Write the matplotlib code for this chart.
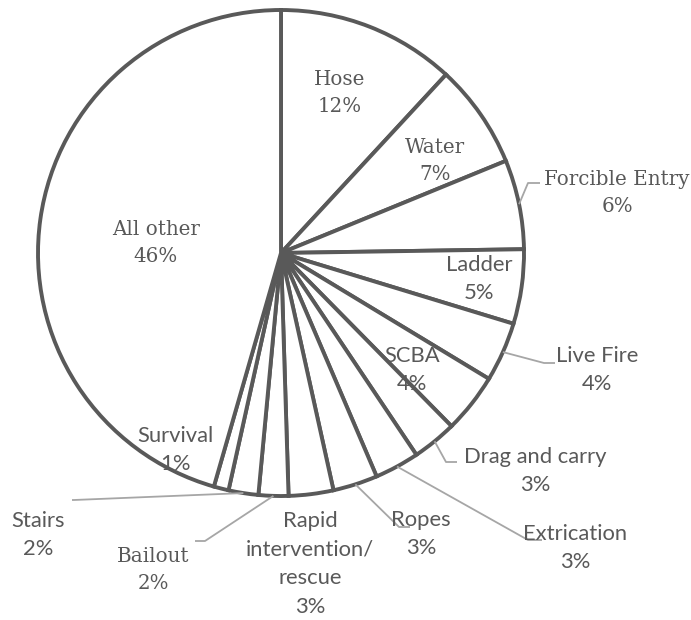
import matplotlib.pyplot as plt
import numpy as np

##############
# PARAMETERS #
##############

# Share of training topics (clockwise from the top)
Topics = ["Hose", "Water", "Forcible Entry", "Ladder", "Live Fire", "SCBA",
          "Drag and carry", "Extrication", "Ropes",
          "Rapid\nintervention/\nrescue", "Bailout", "Stairs", "Survival",
          "All other"]
Shares = [12, 7, 6, 5, 4, 4, 3, 3, 3, 3, 2, 2, 1, 46]

Serif_topics = ["Hose", "Water", "Forcible Entry", "All other", "Bailout"]

# Scale: one data unit = pie radius in pixels
R_px = 243.0
C_px = (281.0, 253.0)
W_px, H_px = 691, 620


def px(x, y):
    # pixel position -> data position
    return ((x - C_px[0]) / R_px, (C_px[1] - y) / R_px)


Edge_col = "#595959"
Text_col = "#595959"
Lead_col = "#a6a6a6"

# label centre (pixels) and, for outside labels, the elbow of the leader line
# and the end of its short horizontal run
Label_pos = {
    "Hose": ((340, 93), None),
    "Water": ((435, 161), None),
    "Forcible Entry": ((617, 193), ((528, 183), (540, 183))),
    "Ladder": ((479, 279), None),
    "Live Fire": ((597, 370), ((544, 363), (555, 363))),
    "SCBA": ((412, 370), None),
    "Drag and carry": ((535, 471), ((446, 462), (457, 462))),
    "Extrication": ((575, 548), ((528, 540), (542, 540))),
    "Ropes": ((421, 534), ((399, 527), (410, 527))),
    "Rapid\nintervention/\nrescue": ((310, 564), None),
    "Bailout": ((153, 570), ((205, 541), (195, 541))),
    "Stairs": ((38, 535), ((74, 500), (72, 500))),
    "Survival": ((175, 450), None),
    "All other": ((156, 243), None),
}

########
# CODE #
########

fig = plt.figure(figsize=(W_px / 100, H_px / 100), dpi=100)
ax = fig.add_axes([0, 0, 1, 1])

wedges, _ = ax.pie(Shares, startangle=90, counterclock=False, radius=1,
                   colors=["white"] * len(Shares),
                   wedgeprops=dict(edgecolor=Edge_col, linewidth=2.8))

# pie() resets the limits, so set them afterwards
ax.set_xlim(-C_px[0] / R_px, (W_px - C_px[0]) / R_px)
ax.set_ylim(-(H_px - C_px[1]) / R_px, C_px[1] / R_px)
ax.set_aspect("equal")
ax.axis("off")

for w, name, val in zip(wedges, Topics, Shares):
    (tx, ty), lead = Label_pos[name]
    x, y = px(tx, ty)
    if name in Serif_topics:
        fam, fs = ["DejaVu Serif"], 14.3
    else:
        fam, fs = ["Lato", "DejaVu Sans"], 15.8
    ax.text(x, y, name + "\n" + str(val) + "%", ha="center", va="center",
            fontsize=fs, family=fam, color=Text_col, linespacing=1.55)
    if lead is not None:
        mid = np.deg2rad((w.theta1 + w.theta2) / 2)
        (ex, ey), (hx, hy) = lead
        e = px(ex, ey)
        h = px(hx, hy)
        ax.plot([np.cos(mid), e[0], h[0]], [np.sin(mid), e[1], h[1]],
                color=Lead_col, lw=1.3, solid_capstyle="butt")

plt.savefig("out.png", dpi=100, facecolor="white")
